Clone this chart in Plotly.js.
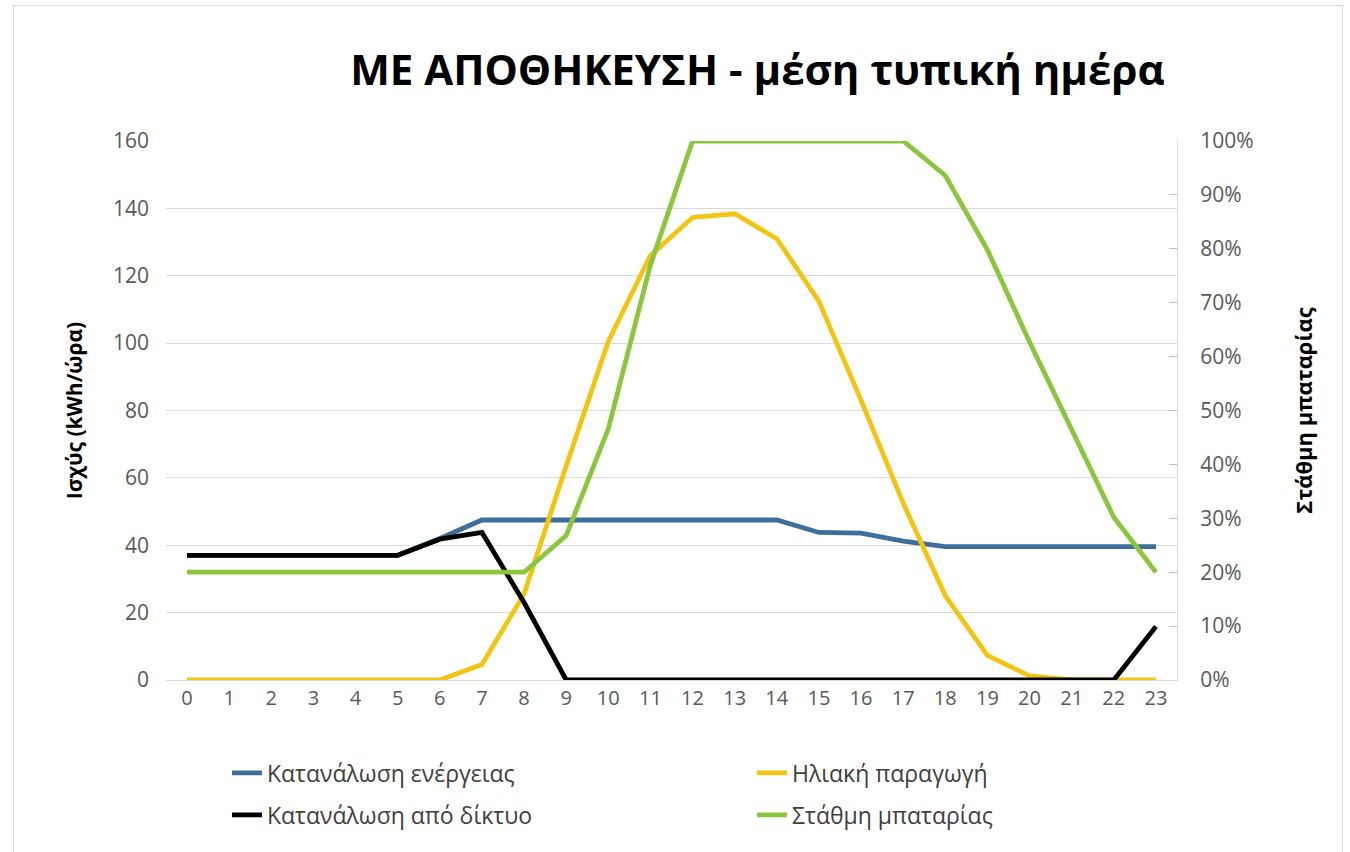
<!DOCTYPE html>
<html>
<head>
<meta charset="utf-8">
<script src="https://cdn.plot.ly/plotly-3.0.1.min.js"></script>
<style>
  html, body { margin: 0; padding: 0; background: #ffffff; }
  #wrap { position: relative; width: 1350px; height: 852px; overflow: hidden; }
  #chart { width: 1350px; height: 852px; }
  #frame { position: absolute; left: 13px; top: 5px; width: 1328px; height: 860px;
           border: 1px solid #d9d9d9; pointer-events: none; }
</style>
</head>
<body>
<div id="wrap">
  <div id="chart"></div>
  <div id="frame"></div>
</div>
<script>
// ---- data ----
const hours = [0,1,2,3,4,5,6,7,8,9,10,11,12,13,14,15,16,17,18,19,20,21,22,23];
const consumption = [37,37,37,37,37,37,42,47.5,47.5,47.5,47.5,47.5,47.5,47.5,47.5,43.8,43.6,41.2,39.6,39.6,39.6,39.6,39.6,39.6];
const solar = [0,0,0,0,0,0,0,4.6,25.5,63.5,100.5,126,137.3,138.4,131,112.4,83,52.5,25,7.3,1.2,0,0,0];
const gridDraw = [37,37,37,37,37,37,41.8,43.8,23,0,0,0,0,0,0,0,0,0,0,0,0,0,0,15.9];
const battery = [0.20,0.20,0.20,0.20,0.20,0.20,0.20,0.20,0.20,0.268,0.466,0.77,1.0,1.0,1.0,1.0,1.0,1.0,0.936,0.798,0.627,0.463,0.302,0.20];
const names = ['Κατανάλωση ενέργειας','Ηλιακή παραγωγή','Κατανάλωση από δίκτυο','Στάθμη μπαταρίας'];
const leftTicks = [0,20,40,60,80,100,120,140,160];
const rightTicks = [0,0.1,0.2,0.3,0.4,0.5,0.6,0.7,0.8,0.9,1.0];
const titleText = 'ΜΕ ΑΠΟΘΗΚΕΥΣΗ - μέση τυπική ημέρα';
const yTitle = 'Ισχύς (kWh/ώρα)';
const y2Title = 'Στάθμη μπαταρίας';

const FONT = '"Open Sans", "Noto Sans", sans-serif';
const LW = 4.8;

const traces = [
  {x: hours, y: consumption, name: names[0], mode: 'lines', line: {color: '#3E6F9C', width: LW}, cliponaxis: false, legend: 'legend'},
  {x: hours, y: solar, name: names[1], mode: 'lines', line: {color: '#F2C515', width: LW}, cliponaxis: false, legend: 'legend2'},
  {x: hours, y: gridDraw, name: names[2], mode: 'lines', line: {color: '#000000', width: LW}, cliponaxis: false, legend: 'legend3'},
  {x: hours, y: battery, name: names[3], mode: 'lines', line: {color: '#8CC63F', width: LW}, cliponaxis: false, yaxis: 'y2', legend: 'legend4'}
];

function leg(x, y) {
  return {
    orientation: 'h', xref: 'paper', yref: 'paper', x: x, y: y, xanchor: 'left', yanchor: 'middle',
    font: {family: FONT, size: 23, color: '#404040'},
    bgcolor: 'rgba(0,0,0,0)', borderwidth: 0, itemclick: false, itemdoubleclick: false
  };
}

const layout = {
  width: 1350, height: 852,
  margin: {l: 166, r: 173, t: 141, b: 172},
  paper_bgcolor: '#ffffff', plot_bgcolor: '#ffffff',
  font: {family: FONT, color: '#595959'},
  title: {text: titleText, font: {family: FONT, size: 42, color: '#000000', weight: 'bold'},
          x: 0.561, xref: 'container', xanchor: 'center', y: 0.918, yref: 'container', yanchor: 'middle'},
  xaxis: {range: [-0.5, 23.5], tickvals: hours, ticktext: hours.map(String), showgrid: false,
          showline: true, linecolor: '#d9d9d9', linewidth: 1, ticks: '', zeroline: false,
          ticklabelstandoff: 0,
          tickfont: {family: FONT, size: 20, color: '#595959'}, fixedrange: true},
  yaxis: {range: [0, 160], tickvals: leftTicks, showgrid: true, gridcolor: '#d9d9d9', gridwidth: 1,
          zeroline: false, showline: false, ticks: '', ticklabelstandoff: 16,
          tickfont: {family: FONT, size: 21, color: '#595959'},
          title: {text: yTitle, font: {family: FONT, size: 21, color: '#000000', weight: 'bold'}, standoff: 24}},
  yaxis2: {range: [0, 1], overlaying: 'y', side: 'right', tickvals: rightTicks, tickformat: '.0%',
           showgrid: false, zeroline: false, showline: true, linecolor: '#d9d9d9', linewidth: 1,
           ticks: 'inside', ticklen: 8, tickcolor: '#bfbfbf', ticklabelstandoff: 18,
           tickfont: {family: FONT, size: 21, color: '#595959'},
           title: {text: y2Title, font: {family: FONT, size: 22, color: '#000000', weight: 'bold'}, standoff: 44}},
  legend: leg(0.0603, -0.1725),
  legend2: leg(0.5796, -0.1725),
  legend3: leg(0.0603, -0.2505),
  legend4: leg(0.5796, -0.2505),
  showlegend: true
};

Plotly.newPlot('chart', traces, layout, {displayModeBar: false, staticPlot: true});
</script>
</body>
</html>
